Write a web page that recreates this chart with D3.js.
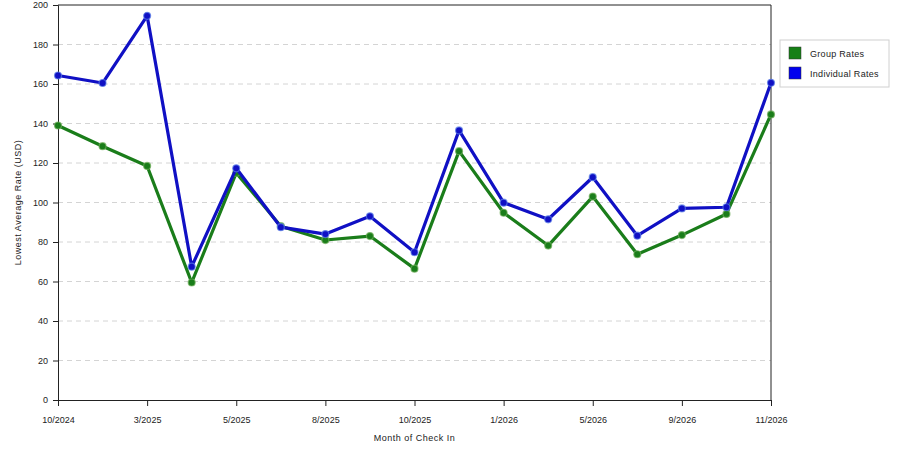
<!DOCTYPE html>
<html>
<head>
<meta charset="UTF-8">
<script src="https://cdnjs.cloudflare.com/ajax/libs/d3/7.8.5/d3.min.js"></script>
<style>
  body { margin: 0; background: #fff; }
  svg { font-family: "Liberation Sans", Arial, sans-serif; }
</style>
</head>
<body>
<svg id="chart" width="900" height="450"></svg>
<script>
// months along the x axis (only every other one gets a label)
const months = ["10/2024", "1/2025", "3/2025", "4/2025", "5/2025", "7/2025", "8/2025", "9/2025",
                "10/2025", "12/2025", "1/2026", "3/2026", "5/2026", "7/2026", "9/2026", "10/2026", "11/2026"];
const labeledMonths = ["10/2024", "3/2025", "5/2025", "8/2025", "10/2025", "1/2026", "5/2026", "9/2026", "11/2026"];
const groupRates = [139, 128.5, 118.5, 59.5, 115, 88, 81, 83, 66.5, 126, 94.8, 78.2, 103, 73.8, 83.5, 94.2, 144.6];
const individualRates = [164.3, 160.5, 194.5, 67.5, 117.3, 87.5, 84, 93, 74.8, 136.5, 99.9, 91.5, 112.8, 83.2, 97, 97.6, 160.6];
const yTicks = [0, 20, 40, 60, 80, 100, 120, 140, 160, 180, 200];
const seriesNames = ["Group Rates", "Individual Rates"];
const seriesColors = ["#1a7d1a", "#1010c4"];

const plotLeft = 58, plotRight = 771, plotTop = 5, plotBottom = 400;

const svg = d3.select("#chart");

const x = d3.scalePoint().domain(months).range([plotLeft, plotRight]);
const y = d3.scaleLinear().domain([0, 200]).range([plotBottom, plotTop]);

// dashed grid
svg.append("g")
    .selectAll("line")
    .data(yTicks.filter(d => d > 0 && d < 200))
    .join("line")
    .attr("x1", plotLeft).attr("x2", plotRight)
    .attr("y1", d => y(d)).attr("y2", d => y(d))
    .attr("stroke", "#d4d4d4")
    .attr("stroke-dasharray", "5,4");

// frame top and right
svg.append("line").attr("x1", plotLeft).attr("x2", plotRight).attr("y1", plotTop).attr("y2", plotTop).attr("stroke", "#222");
svg.append("line").attr("x1", plotRight).attr("x2", plotRight).attr("y1", plotTop).attr("y2", plotBottom).attr("stroke", "#222");

// y axis
const yAxis = svg.append("g")
    .attr("transform", `translate(${plotLeft},0)`)
    .call(d3.axisLeft(y).tickValues(yTicks).tickSize(5).tickPadding(5));
yAxis.selectAll("text").attr("font-size", 9).attr("fill", "#222").attr("font-family", "Liberation Sans, Arial, sans-serif");
yAxis.selectAll("line, path").attr("stroke", "#222");

// x axis
const xAxis = svg.append("g")
    .attr("transform", `translate(0,${plotBottom})`)
    .call(d3.axisBottom(x).tickValues(labeledMonths).tickSize(6).tickPadding(11).tickSizeOuter(0));
xAxis.selectAll("text").attr("font-size", 9).attr("fill", "#222").attr("font-family", "Liberation Sans, Arial, sans-serif");
xAxis.selectAll("line, path").attr("stroke", "#222");

// axis titles
svg.append("text")
    .attr("x", (plotLeft + plotRight) / 2).attr("y", 441)
    .attr("text-anchor", "middle")
    .attr("font-size", 9).attr("fill", "#222")
    .attr("letter-spacing", 0.5)
    .text("Month of Check In");

svg.append("text")
    .attr("transform", `translate(21,${(plotTop + plotBottom) / 2}) rotate(-90)`)
    .attr("text-anchor", "middle")
    .attr("font-size", 9).attr("fill", "#222")
    .attr("letter-spacing", 0.5)
    .text("Lowest Average Rate (USD)");

// lines and points
const line = d3.line().x((d, i) => x(months[i])).y(d => y(d));
const allSeries = [groupRates, individualRates];

allSeries.forEach((vals, s) => {
  svg.append("path")
      .datum(vals)
      .attr("fill", "none")
      .attr("stroke", seriesColors[s])
      .attr("stroke-width", 3.2)
      .attr("stroke-linejoin", "round")
      .attr("d", line);
  svg.append("g")
      .selectAll("circle")
      .data(vals)
      .join("circle")
      .attr("cx", (d, i) => x(months[i]))
      .attr("cy", d => y(d))
      .attr("r", 3.5)
      .attr("fill", seriesColors[s])
      .attr("stroke", s === 0 ? "#6fae5a" : "#5b7fe8")
      .attr("stroke-opacity", 0.7)
      .attr("stroke-width", 1.2);
});

// legend
const legend = svg.append("g").attr("transform", "translate(780,40)");
legend.append("rect")
    .attr("width", 109).attr("height", 47)
    .attr("fill", "#fff").attr("stroke", "#d0d0d0");
seriesNames.forEach((name, i) => {
  legend.append("rect")
      .attr("x", 9).attr("y", 7 + i * 20)
      .attr("width", 12).attr("height", 12)
      .attr("fill", i === 1 ? "#0000ee" : "#168016")
      .attr("stroke", "#333").attr("stroke-width", 0.5);
  legend.append("text")
      .attr("x", 30).attr("y", 17 + i * 20)
      .attr("font-size", 9).attr("fill", "#222")
      .attr("letter-spacing", 0.3)
      .text(name);
});
</script>
</body>
</html>
